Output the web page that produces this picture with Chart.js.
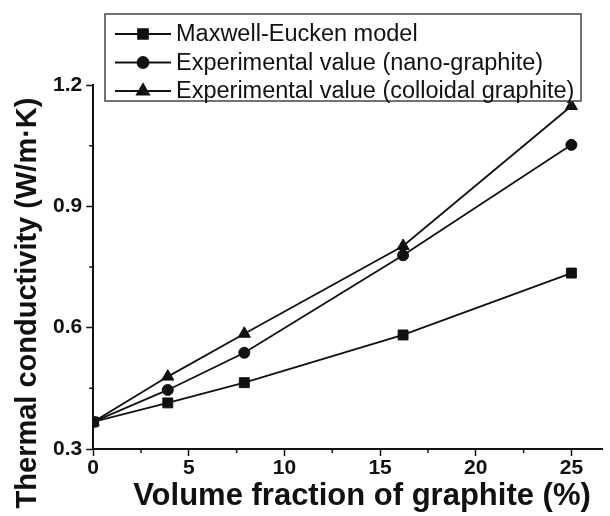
<!DOCTYPE html>
<html>
<head>
    <meta charset="utf-8">
    <title>Thermal conductivity</title>
    <script src="https://cdn.jsdelivr.net/npm/chart.js@4/dist/chart.umd.min.js"></script>
    <style>
        body { margin: 0; background: #fff; }
    </style>
</head>
<body>
    <canvas id="chart" width="610" height="516"></canvas>
<script>
    // data
    const volumeFraction = [0, 3.9, 7.9, 16.2, 25];
    const maxwellEucken = [0.367, 0.414, 0.464, 0.582, 0.735];
    const nanoGraphite = [0.367, 0.446, 0.538, 0.779, 1.052];
    const colloidalGraphite = [0.367, 0.479, 0.585, 0.802, 1.148];
    const seriesNames = ['Maxwell-Eucken model', 'Experimental value (nano-graphite)', 'Experimental value (colloidal graphite)'];
    const yTicks = [0.3, 0.6, 0.9, 1.2];
    const xTitle = 'Volume fraction of graphite (%)';
    const yTitle = 'Thermal conductivity (W/m\u00b7K)';

    const FONT = '"Liberation Sans", Arial, sans-serif';
    const INK = '#111';

    const toPoints = (ys) => ys.map((y, i) => ({ x: volumeFraction[i], y: y }));

    // short minor ticks, box legend and both axis titles
    const extrasPlugin = {
        id: 'extras',
        afterDraw(chart) {
            const ctx = chart.ctx;
            const xs = chart.scales.x, ys = chart.scales.y;
            ctx.save();
            ctx.strokeStyle = INK;
            ctx.lineWidth = 1.5;
            ctx.beginPath();
            for (let v = 2.5; v < xs.max; v += 5) {
                const px = xs.getPixelForValue(v);
                ctx.moveTo(px, ys.bottom);
                ctx.lineTo(px, ys.bottom + 4);
            }
            for (let v = 0.45; v < ys.max; v += 0.3) {
                const py = ys.getPixelForValue(v);
                ctx.moveTo(xs.left, py);
                ctx.lineTo(xs.left - 4, py);
            }
            ctx.stroke();

            // legend box
            const bx = 105, by = 14, bw = 476, bh = 87;
            ctx.fillStyle = '#fff';
            ctx.fillRect(bx, by, bw, bh);
            ctx.strokeStyle = '#444';
            ctx.lineWidth = 1.5;
            ctx.strokeRect(bx, by, bw, bh);
            ctx.font = '23.5px ' + FONT;
            ctx.textBaseline = 'middle';
            chart.data.datasets.forEach((ds, i) => {
                const rowY = by + 20 + i * 28.5;
                ctx.strokeStyle = INK;
                ctx.lineWidth = 1.8;
                ctx.beginPath();
                ctx.moveTo(115, rowY);
                ctx.lineTo(171, rowY);
                ctx.stroke();
                ctx.fillStyle = INK;
                Chart.helpers.drawPoint(ctx, {
                    pointStyle: ds.pointStyle,
                    radius: ds.pointRadius,
                    rotation: 0,
                    borderWidth: 1
                }, 143, rowY);
                ctx.fillStyle = INK;
                ctx.fillText(ds.label, 176, rowY + 1);
            });

            // axis titles
            ctx.fillStyle = INK;
            ctx.textAlign = 'center';
            ctx.font = 'bold 31px ' + FONT;
            ctx.fillText(xTitle, 362, 496);
            ctx.translate(28, 303);
            ctx.rotate(-Math.PI / 2);
            ctx.font = 'bold 29px ' + FONT;
            ctx.fillText(yTitle, 0, 0);
            ctx.restore();
        }
    };

    const makeSet = (label, values, style, radius) => ({
        label: label,
        data: toPoints(values),
        borderColor: INK,
        backgroundColor: INK,
        borderWidth: 1.8,
        pointStyle: style,
        pointRadius: radius,
        pointBorderWidth: 1,
        tension: 0
    });

    new Chart(document.getElementById('chart'), {
        type: 'line',
        data: {
            datasets: [
                makeSet(seriesNames[0], maxwellEucken, 'rect', 7),
                makeSet(seriesNames[1], nanoGraphite, 'circle', 5.5),
                makeSet(seriesNames[2], colloidalGraphite, 'triangle', 7)
            ]
        },
        plugins: [extrasPlugin],
        options: {
            responsive: false,
            animation: false,
            layout: { padding: { top: 85, left: 49, right: 0, bottom: 35 } },
            plugins: {
                legend: { display: false },
                tooltip: { enabled: false }
            },
            scales: {
                x: {
                    type: 'linear',
                    min: 0,
                    max: 26.6,
                    border: { display: true, color: INK, width: 2 },
                    grid: { drawOnChartArea: false, color: INK, tickLength: 7, tickWidth: 1.5 },
                    ticks: {
                        stepSize: 5,
                        includeBounds: false,
                        color: INK,
                        padding: 2,
                        font: { family: FONT, size: 21, weight: 'bold', lineHeight: 1 },
                        callback: (v) => (v % 5 === 0 ? v : '')
                    }
                },
                y: {
                    min: 0.3,
                    max: 1.2,
                    afterBuildTicks: (axis) => { axis.ticks = yTicks.map(v => ({ value: v })); },
                    border: { display: true, color: INK, width: 2 },
                    grid: { drawOnChartArea: false, color: INK, tickLength: 7, tickWidth: 1.5 },
                    ticks: {
                        color: INK,
                        padding: 4,
                        font: { family: FONT, size: 21, weight: 'bold' },
                        callback: (v) => v.toFixed(1)
                    }
                }
            }
        }
    });
</script>
</body>
</html>
